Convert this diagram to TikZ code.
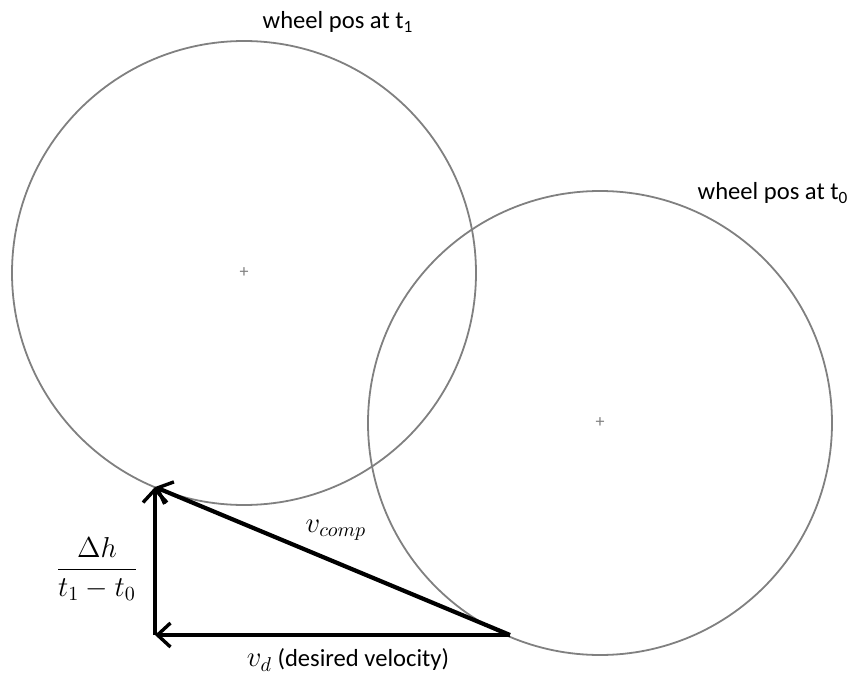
\documentclass[tikz,border=0pt]{standalone}
\usepackage{amsmath}
\usepackage{fontspec}
\setmainfont{Carlito}
\usetikzlibrary{arrows.meta}

\begin{document}
\begin{tikzpicture}[x=0.5pt,y=-0.5pt,>={Straight Barb[length=6.5pt,width=12pt,line width=1.7pt]},
	  wheel node/.style={circle,draw=black!50,line width=0.9pt,minimum size=232pt,inner sep=0pt},
	  hub node/.style={draw=none,font=\small,text=black!50,inner sep=0pt},
	  vec/.style={->,line width=2.1pt,black},
	  lbl/.style={font=\fontsize{12.3}{14}\selectfont}]

	\useasboundingbox (0,0) rectangle (852,674);

		\node[wheel node] (w1) at (244,273) {};
		\node[wheel node] (w0) at (600,423) {};
		\node[hub node] at (w1.center) {+};
		\node[hub node] at (w0.center) {+};

		\node[lbl] (l1) at (338,22) {wheel pos at t\textsubscript{1}};
		\node[lbl] (l0) at (773,193) {wheel pos at t\textsubscript{0}};

		\coordinate (top) at (155,487);
		\coordinate (corner) at (155,635);
		\coordinate (start) at (510,635);

	\path[vec]
		(corner) edge (top)
		(start) edge (corner)
				 edge (top);

	\node[font=\fontsize{14}{16}\selectfont] (comp) at (336,530) {$v_{comp}$};
	\node[lbl] (vd) at (348,660) {{\fontsize{14}{16}\selectfont$v_d$} (desired velocity)};
	\node[font=\fontsize{14}{16}\selectfont] (frac) at (97,569) {$\dfrac{\Delta h}{t_1 - t_0}$};

\end{tikzpicture}
\end{document}
